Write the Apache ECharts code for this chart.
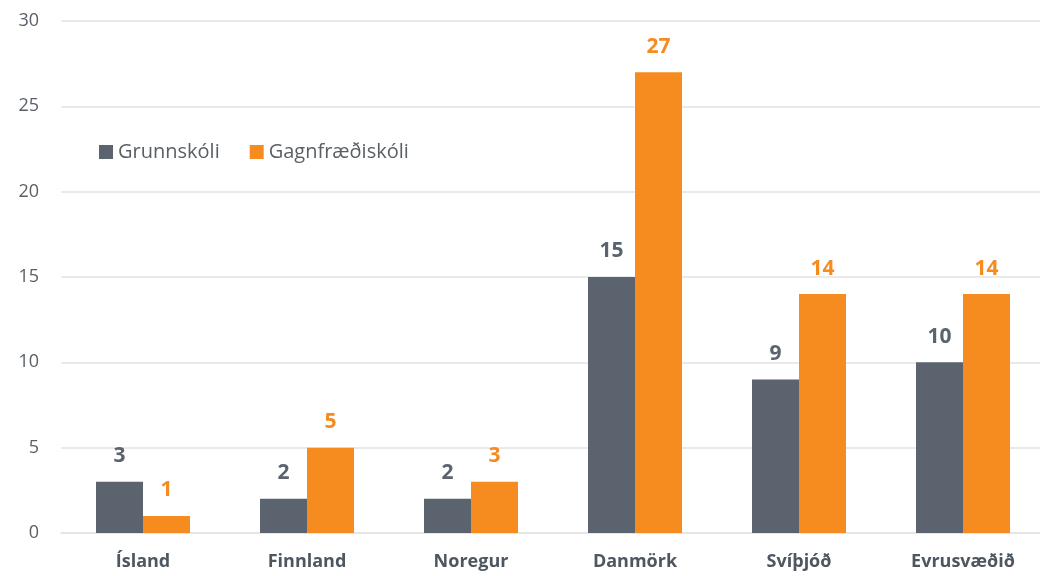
<!DOCTYPE html>
<html>
<head>
<meta charset="utf-8">
<script src="https://cdn.jsdelivr.net/npm/echarts@6/dist/echarts.min.js"></script>
<style>
  html, body { margin: 0; padding: 0; background: #fff; }
  #main { width: 1040px; height: 576px; }
</style>
</head>
<body>
<div id="main"></div>
<script>
  // Values
  const countries = ["Ísland", "Finnland", "Noregur", "Danmörk", "Svíþjóð", "Evrusvæðið"];
  const grunnskoli = [3, 2, 2, 15, 9, 10];
  const gagnfraediskoli = [1, 5, 3, 27, 14, 14];
  const seriesNames = ["Grunnskóli", "Gagnfræðiskóli"];

  const font = "'Open Sans', sans-serif";
  const grey = "#5a636e";
  const orange = "#f68b1f";

  var chart = echarts.init(document.getElementById("main"));

  var option = {
    animation: false,
    textStyle: { fontFamily: font },
    legend: {
      left: 94,
      top: 137,
      itemWidth: 14,
      itemHeight: 14,
      itemGap: 30,
      icon: "rect",
      textStyle: { fontFamily: font, fontSize: 20, color: "#595f66" },
      data: seriesNames,
    },
    grid: {
      left: 61,
      width: 984,
      top: 21,
      bottom: 43,
      outerBoundsMode: "none",
    },
    xAxis: {
      type: "category",
      data: countries,
      axisTick: { show: false },
      axisLine: { lineStyle: { color: "#e3e3e3", width: 1.5 } },
      axisLabel: {
        margin: 20,
        fontFamily: font,
        fontSize: 18,
        fontWeight: "bold",
        color: "#4e5660",
      },
    },
    yAxis: {
      type: "value",
      min: 0,
      max: 30,
      interval: 5,
      axisLine: { show: false },
      axisTick: { show: false },
      splitLine: { lineStyle: { color: "#e3e3e3", width: 1.5 } },
      axisLabel: {
        margin: 22,
        fontFamily: font,
        fontSize: 18,
        color: "#595f66",
      },
    },
    series: [
      {
        name: seriesNames[0],
        type: "bar",
        data: grunnskoli,
        barGap: "0%",
        barCategoryGap: "42.7%",
        itemStyle: { color: grey },
        label: {
          show: true,
          position: "top",
          distance: 15,
          fontFamily: font,
          fontSize: 21,
          fontWeight: "bold",
          color: "#5a636e",
        },
      },
      {
        name: seriesNames[1],
        type: "bar",
        data: gagnfraediskoli,
        barGap: "0%",
        barCategoryGap: "42.7%",
        itemStyle: { color: orange },
        label: {
          show: true,
          position: "top",
          distance: 15,
          fontFamily: font,
          fontSize: 21,
          fontWeight: "bold",
          color: orange,
        },
      },
    ],
  };

  chart.setOption(option);
</script>
</body>
</html>
